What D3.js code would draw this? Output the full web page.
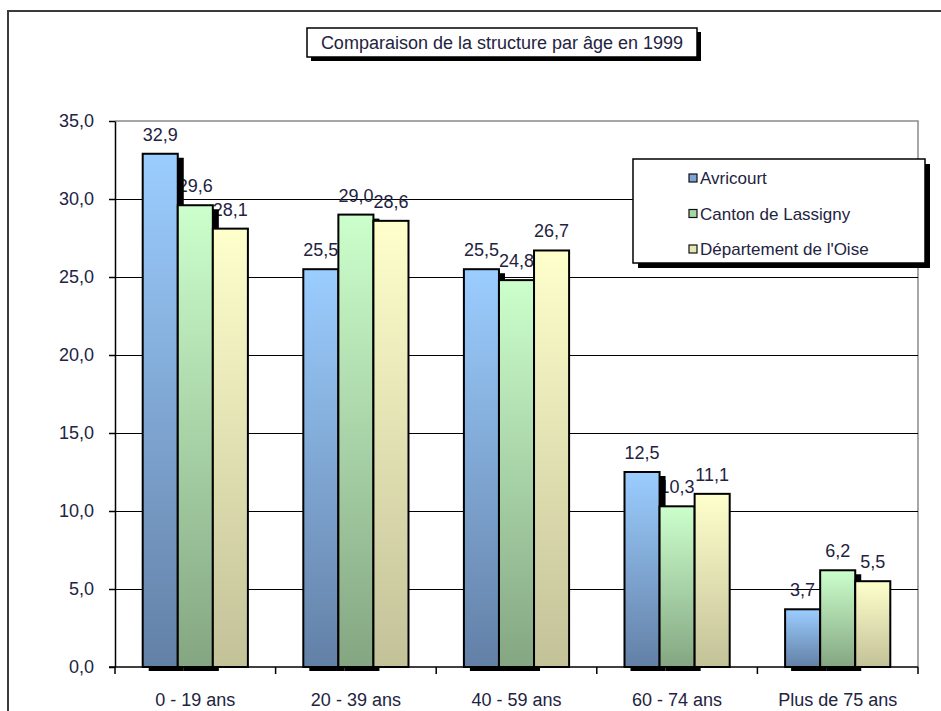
<!DOCTYPE html>
<html>
<head>
<meta charset="utf-8">
<script src="https://cdn.jsdelivr.net/npm/d3@7"></script>
<style>
  html, body { margin: 0; padding: 0; background: #fff; }
  svg { display: block; font-family: "Liberation Sans", Arial, sans-serif; }
</style>
</head>
<body>
<svg id="chart" width="941" height="711"></svg>
<script>
// Age groups along the x axis
const categories = ["0 - 19 ans", "20 - 39 ans", "40 - 59 ans", "60 - 74 ans", "Plus de 75 ans"];
// Series names (legend order)
const seriesNames = ["Avricourt", "Canton de Lassigny", "Département de l'Oise"];
// Share of population per age group (%)
const avricourt = [32.9, 25.5, 25.5, 12.5, 3.7];
const lassigny  = [29.6, 29.0, 24.8, 10.3, 6.2];
const oise      = [28.1, 28.6, 26.7, 11.1, 5.5];
const yTicks = [0, 5, 10, 15, 20, 25, 30, 35];
const title = "Comparaison de la structure par âge en 1999";

const seriesValues = [avricourt, lassigny, oise];
// gradient colours per series: [top, bottom], plus legend swatch
const palette = [
  { top: "#9bcdff", bottom: "#6380a6", swatch: "#7ea4d6" },
  { top: "#ccffcc", bottom: "#84a682", swatch: "#a6d6a6" },
  { top: "#ffffcc", bottom: "#c3c198", swatch: "#e6e6b4" }
];
const textColor = "#23233f";

const svg = d3.select("#chart");
const plot = { left: 115, right: 918, top: 121, bottom: 667 };

const x0 = d3.scaleBand().domain(categories).range([plot.left, plot.right]).padding(0);
const x1 = d3.scaleBand().domain(d3.range(seriesNames.length))
  .range([0, x0.bandwidth()]).paddingInner(0).paddingOuter(0.79);
const y = d3.scaleLinear().domain([0, 35]).range([plot.bottom, plot.top]);
const fmt = v => v.toFixed(1).replace(".", ",");

// gradients
const defs = svg.append("defs");
palette.forEach((p, i) => {
  const g = defs.append("linearGradient").attr("id", "grad" + i)
    .attr("x1", 0).attr("y1", 0).attr("x2", 0).attr("y2", 1);
  g.append("stop").attr("offset", "0%").attr("stop-color", p.top);
  g.append("stop").attr("offset", "100%").attr("stop-color", p.bottom);
});

// outer frame
svg.append("path")
  .attr("d", "M8,720 L8,11 L950,11")
  .attr("fill", "none").attr("stroke", "#3a3a3a").attr("stroke-width", 2);

// plot area border (top and right)
svg.append("path")
  .attr("d", `M${plot.left},${y(35)} H${plot.right} V${plot.bottom}`)
  .attr("fill", "none").attr("stroke", "#8a8a8a").attr("stroke-width", 1.5);

// horizontal gridlines
svg.append("g").selectAll("line")
  .data(yTicks.filter(t => t > 0 && t < 35))
  .join("line")
  .attr("x1", plot.left).attr("x2", plot.right)
  .attr("y1", d => Math.round(y(d)) + 0.5).attr("y2", d => Math.round(y(d)) + 0.5)
  .attr("stroke", "#000").attr("stroke-width", 1.2);

// y axis
const yAxis = svg.append("g")
  .attr("transform", `translate(${plot.left},0)`)
  .call(d3.axisLeft(y).tickValues(yTicks).tickFormat(fmt).tickSize(6).tickSizeOuter(0).tickPadding(15));
yAxis.select(".domain").attr("stroke", "#000").attr("stroke-width", 1.5);
yAxis.selectAll(".tick line").attr("stroke", "#000").attr("stroke-width", 1.5);
yAxis.selectAll(".tick text")
  .attr("font-size", 18).attr("fill", textColor)
  .attr("font-family", "Liberation Sans, Arial, sans-serif");

// value labels (drawn beneath the bars and their shadows)
const groups = categories.map((c, ci) => seriesValues.map((vals, si) => ({ c, si, v: vals[ci] })));
const flat = groups.flat();

svg.append("g").selectAll("text")
  .data(flat)
  .join("text")
  .attr("x", d => x0(d.c) + x1(d.si) + x1.bandwidth() / 2)
  .attr("y", d => y(d.v) - 13)
  .attr("text-anchor", "middle")
  .attr("font-size", 18)
  .attr("fill", textColor)
  .text(d => fmt(d.v));

// bar shadows (first two series)
svg.append("g").selectAll("rect")
  .data(flat.filter(d => d.si < 2))
  .join("rect")
  .attr("x", d => x0(d.c) + x1(d.si) + 6)
  .attr("y", d => y(d.v) + 4)
  .attr("width", x1.bandwidth())
  .attr("height", d => y(0) - y(d.v))
  .attr("fill", "#000");

// bars
svg.append("g").selectAll("rect")
  .data(flat)
  .join("rect")
  .attr("x", d => x0(d.c) + x1(d.si))
  .attr("y", d => y(d.v))
  .attr("width", x1.bandwidth())
  .attr("height", d => y(0) - y(d.v))
  .attr("fill", d => `url(#grad${d.si})`)
  .attr("stroke", "#000").attr("stroke-width", 2);

// x axis line and boundary ticks
svg.append("line")
  .attr("x1", plot.left - 6).attr("x2", plot.right)
  .attr("y1", y(0)).attr("y2", y(0))
  .attr("stroke", "#000").attr("stroke-width", 1.5);
const bounds = categories.map(c => x0(c)).concat([plot.right]);
svg.append("g").selectAll("line")
  .data(bounds)
  .join("line")
  .attr("x1", d => d).attr("x2", d => d)
  .attr("y1", y(0)).attr("y2", y(0) + 7)
  .attr("stroke", "#000").attr("stroke-width", 1.5);

// category labels
svg.append("g").selectAll("text")
  .data(categories)
  .join("text")
  .attr("x", d => x0(d) + x0.bandwidth() / 2)
  .attr("y", 706)
  .attr("text-anchor", "middle")
  .attr("font-size", 18)
  .attr("fill", textColor)
  .text(d => d);

// title box
const tb = { x: 307, y: 28, w: 390, h: 29 };
svg.append("rect").attr("x", tb.x + 4).attr("y", tb.y + 4).attr("width", tb.w).attr("height", tb.h).attr("fill", "#000");
svg.append("rect").attr("x", tb.x).attr("y", tb.y).attr("width", tb.w).attr("height", tb.h)
  .attr("fill", "#fff").attr("stroke", "#000").attr("stroke-width", 1.5);
svg.append("text")
  .attr("x", tb.x + tb.w / 2).attr("y", tb.y + 21)
  .attr("text-anchor", "middle").attr("font-size", 18).attr("fill", textColor)
  .text(title);

// legend
const lg = { x: 633, y: 159, w: 292, h: 104 };
svg.append("rect").attr("x", lg.x + 5).attr("y", lg.y + 5).attr("width", lg.w).attr("height", lg.h).attr("fill", "#000");
svg.append("rect").attr("x", lg.x).attr("y", lg.y).attr("width", lg.w).attr("height", lg.h)
  .attr("fill", "#fff").attr("stroke", "#000").attr("stroke-width", 1.5);
const legendItems = svg.append("g").selectAll("g")
  .data(seriesNames)
  .join("g")
  .attr("transform", (d, i) => `translate(${lg.x + 56},${lg.y + 19 + i * 35.5})`);
legendItems.append("rect")
  .attr("x", 0).attr("y", -4).attr("width", 8).attr("height", 8)
  .attr("fill", (d, i) => palette[i].swatch)
  .attr("stroke", "#111").attr("stroke-width", 1.2);
legendItems.append("text")
  .attr("x", 11).attr("y", 6)
  .attr("font-size", 17).attr("fill", textColor)
  .text(d => d);
</script>
</body>
</html>
